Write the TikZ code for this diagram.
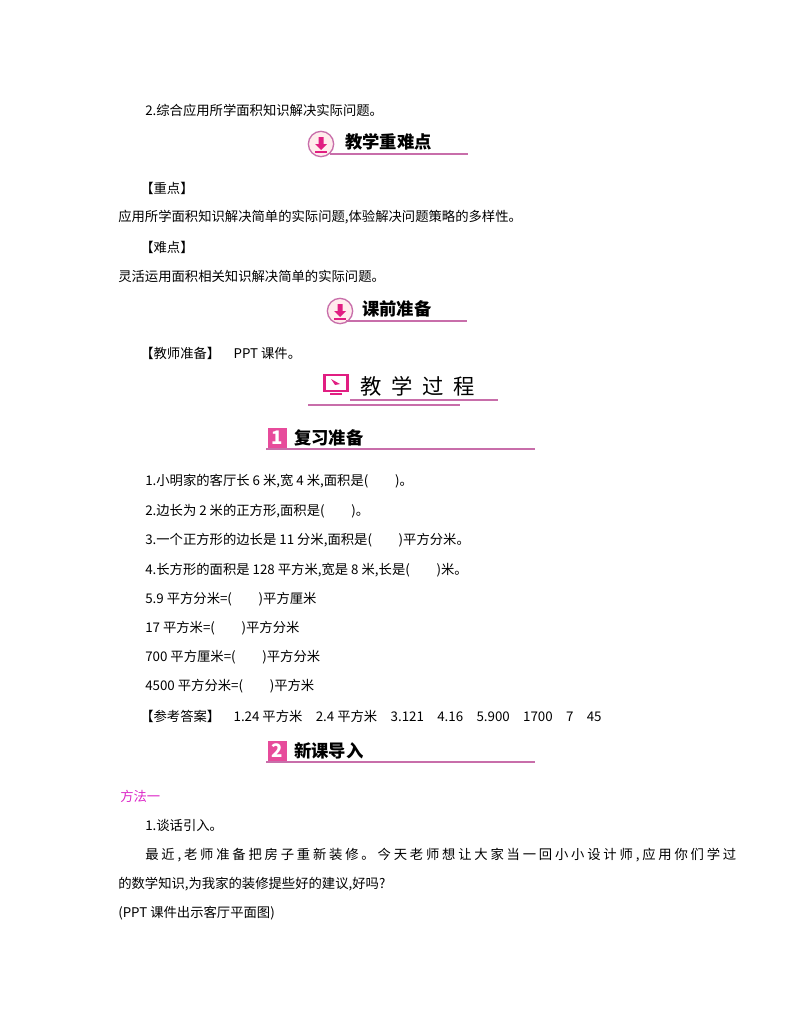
\documentclass[tikz,border=0pt]{standalone}
\usepackage{fontspec}
\setmainfont{Noto Sans CJK SC}
\newfontfamily\wide[LetterSpace=21]{Noto Sans CJK SC}
\definecolor{pk}{RGB}{225,30,130}
\definecolor{pl}{RGB}{200,110,170}
\definecolor{mg}{RGB}{220,40,200}
\begin{document}
\begin{tikzpicture}[x=0.75pt,y=-0.75pt,
  t/.style={anchor=west,inner sep=0,font=\fontsize{10pt}{12pt}\selectfont},
  h/.style={anchor=west,inner sep=0,font=\fontsize{13pt}{15pt}\selectfont\bfseries},
  ul/.style={pl,line width=1.1pt}]
\useasboundingbox (0,0) rectangle (800,1028);
\node[t] (l1) at (145,110) {2.综合应用所学面积知识解决实际问题。};
% header 1
\node[circle,draw=pl,line width=1pt,fill=pink!30,minimum size=19pt,inner sep=0] (i1) at (321,144) {};
\fill[pk] (318.5,137) rectangle (323.5,144) (315,144) -- (327,144) -- (321,150) -- cycle;
\draw[pk,line width=1pt] (315,152) -- (327,152);
\node[h] (h1) at (345,142) {教学重难点};
\draw[ul] (330,154) -- (468,154);
\node[t] (z1) at (140,188) {【重点】};
\node[t] (z2) at (118,217) {应用所学面积知识解决简单的实际问题,体验解决问题策略的多样性。};
\node[t] (n1) at (140,247) {【难点】};
\node[t] (n2) at (118,276) {灵活运用面积相关知识解决简单的实际问题。};
% header 2
\node[circle,draw=pl,line width=1pt,fill=pink!30,minimum size=19pt,inner sep=0] (i2) at (340,311) {};
\fill[pk] (337.5,304) rectangle (342.5,311) (334,311) -- (346,311) -- (340,317) -- cycle;
\draw[pk,line width=1pt] (334,319) -- (346,319);
\node[h] (h2) at (362,309) {课前准备};
\draw[ul] (346,321) -- (467,321);
\node[t] (p1) at (140,353) {【教师准备】\quad PPT 课件。};
% header 3
\node[draw=pk,fill=white,line width=2pt,minimum width=17pt,minimum height=12pt,inner sep=0] (i3) at (336,383) {};
\fill[pk] (331,379) -- (340,384) -- (335,385) -- cycle;
\draw[pk,line width=2pt] (330,394) -- (342,394);
\node[anchor=west,inner sep=0,font=\fontsize{16pt}{18pt}\selectfont] (h3) at (360,386) {教\hspace{0.45em}学\hspace{0.45em}过\hspace{0.45em}程};
\draw[ul] (350,400) -- (498,400);
\draw[ul] (308,405) -- (460,405);
% header 4
\fill[pk!80] (268,428) rectangle (287,449);
\node[anchor=center,inner sep=0,text=white,font=\bfseries\itshape\fontsize{14pt}{14pt}\selectfont] (b1) at (277,438) {1};
\node[h] (h4) at (294,438) {复习准备};
\draw[ul] (266,449) -- (535,449);
\node[t] (q1) at (145,481) {1.小明家的客厅长 6 米,宽 4 米,面积是(\qquad)。};
\node[t] (q2) at (145,511) {2.边长为 2 米的正方形,面积是(\qquad)。};
\node[t] (q3) at (145,540) {3.一个正方形的边长是 11 分米,面积是(\qquad)平方分米。};
\node[t] (q4) at (145,570) {4.长方形的面积是 128 平方米,宽是 8 米,长是(\qquad)米。};
\node[t] (q5) at (145,599) {5.9 平方分米=(\qquad)平方厘米};
\node[t] (q6) at (145,628) {17 平方米=(\qquad)平方分米};
\node[t] (q7) at (145,657) {700 平方厘米=(\qquad)平方分米};
\node[t] (q8) at (145,686) {4500 平方分米=(\qquad)平方米};
\node[t] (ans) at (140,716) {【参考答案】\quad 1.24 平方米\quad 2.4 平方米\quad 3.121\quad 4.16\quad 5.900\quad 1700\quad 7\quad 45};
% header 5
\fill[pk!80] (268,741) rectangle (287,762);
\node[anchor=center,inner sep=0,text=white,font=\bfseries\itshape\fontsize{14pt}{14pt}\selectfont] (b2) at (277,751) {2};
\node[h] (h5) at (294,751) {新课导入};
\draw[ul] (266,762) -- (535,762);
\node[t,text=mg] (m1) at (120,796) {方法一};
\node[t] (m2) at (145,825) {1.谈话引入。};
\node[t,font=\wide\fontsize{10pt}{12pt}\selectfont] (m3) at (145,855) {最近,老师准备把房子重新装修。今天老师想让大家当一回小小设计师,应用你们学过};
\node[t] (m4) at (118,884) {的数学知识,为我家的装修提些好的建议,好吗?};
\node[t] (m5) at (118,913) {(PPT 课件出示客厅平面图)};
\end{tikzpicture}
\end{document}
